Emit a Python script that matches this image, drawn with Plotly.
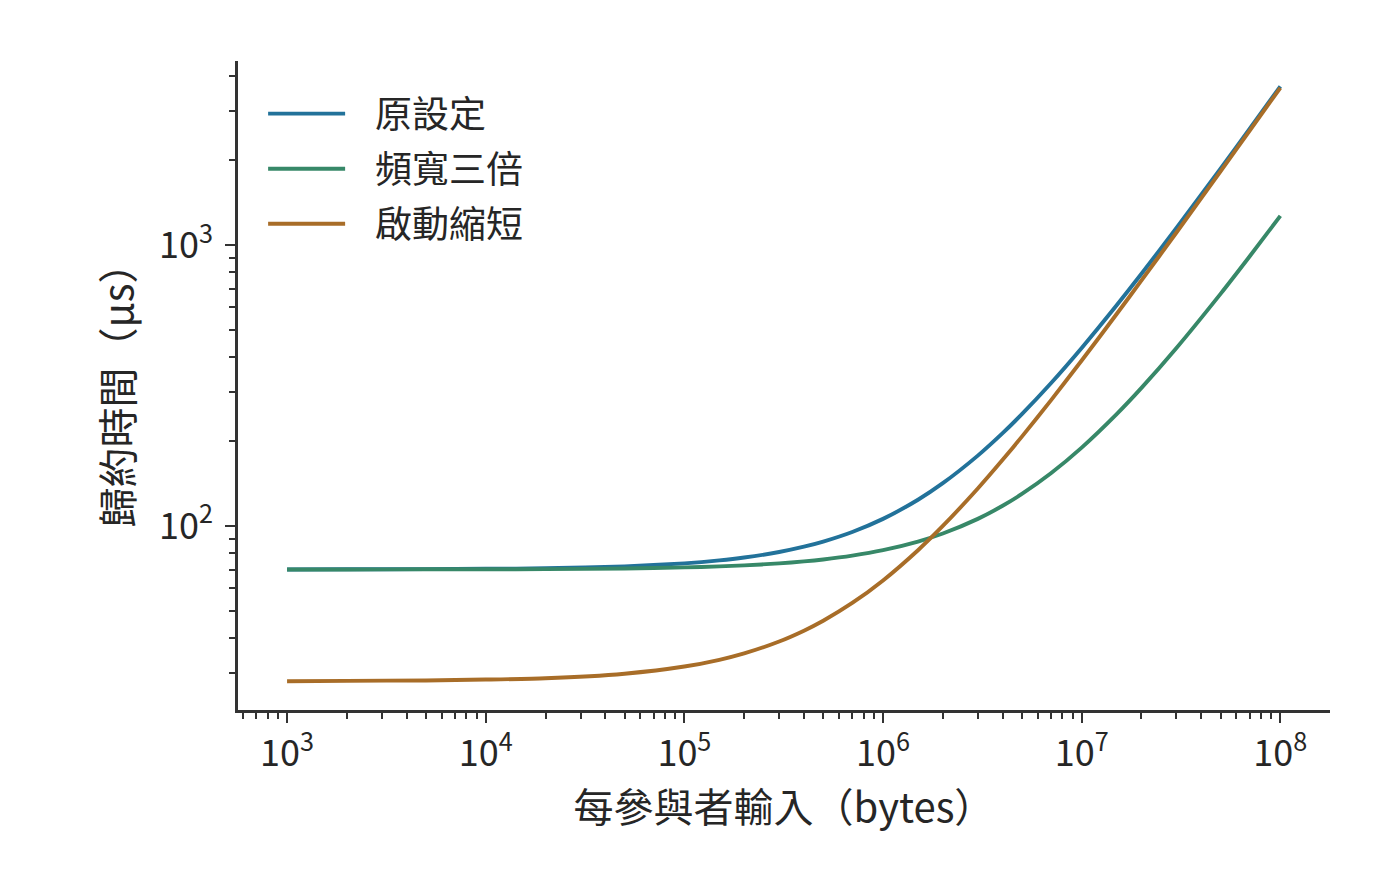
import plotly.graph_objects as go

# ---- data ----
bytes_in = [1e3, 2e3, 5e3, 1e4, 2e4, 5e4, 1e5, 1.5e5, 2e5, 3e5, 4e5, 5e5, 7e5,
            1e6, 1.5e6, 2e6, 3e6, 4e6, 5e6, 7e6, 1e7, 1.5e7, 2e7, 3e7, 5e7,
            7e7, 1e8]
orig = [70, 70.1, 70.2, 70.4, 70.7, 71.8, 73.6, 75.4, 77.2, 80.8, 84.4, 88,
        95.2, 106, 124, 142, 178, 214, 250, 322, 430, 610, 790, 1150, 1870,
        2590, 3670]
bw3 = [70, 70.0, 70.1, 70.1, 70.2, 70.6, 71.2, 71.8, 72.4, 73.6, 74.8, 76,
       78.4, 82, 88, 94, 106, 118, 130, 154, 190, 250, 310, 430, 670, 910,
       1270]
fast = [28, 28.1, 28.2, 28.4, 28.7, 29.8, 31.6, 33.4, 35.2, 38.8, 42.4, 46,
        53.2, 64, 82, 100, 136, 172, 208, 280, 388, 568, 748, 1108, 1828,
        2548, 3628]

series_names = ["原設定", "頻寬三倍", "啟動縮短"]
series_vals = [orig, bw3, fast]
colors = ["#22729a", "#378868", "#a86d28"]

x_tick_vals = [1e3, 1e4, 1e5, 1e6, 1e7, 1e8]
x_tick_text = ["10<sup>3</sup>", "10<sup>4</sup>", "10<sup>5</sup>",
               "10<sup>6</sup>", "10<sup>7</sup>", "10<sup>8</sup>"]
y_tick_vals = [1e2, 1e3]
y_tick_text = ["10<sup>2</sup>", "10<sup>3</sup>"]

x_title = "每參與者輸入（bytes）"
y_title = "歸約時間（μs）"

FONT = "Noto Sans CJK TC, Noto Sans CJK SC, sans-serif"
TXT = "#262626"
AX = "#333333"
GAP = "\u00a0\u00a0\u00a0"

fig = go.Figure()
for i, (name, vals, c) in enumerate(zip(series_names, series_vals, colors)):
    fig.add_trace(go.Scatter(
        x=bytes_in, y=vals, name=GAP + name, mode="lines",
        legendgroup="g%d" % i,
        line=dict(color=c, width=3.9, shape="spline", smoothing=0.6),
    ))

minor_x = [m * 10 ** e for e in range(2, 9) for m in range(2, 10)]
minor_y = [m * 10 ** e for e in range(1, 4) for m in range(2, 10)]

fig.update_layout(
    width=1400, height=888,
    margin=dict(l=230, r=78, t=53, b=186),
    paper_bgcolor="white", plot_bgcolor="white",
    font=dict(family=FONT, size=36, color=TXT),
    showlegend=True,
    legend=dict(x=0.023, y=0.966, xanchor="left", yanchor="top",
                bgcolor="rgba(0,0,0,0)", font=dict(size=37, color=TXT),
                itemwidth=77, tracegroupgap=4),
    xaxis=dict(
        type="log", range=[2.753, 8.25],
        tickvals=x_tick_vals, ticktext=x_tick_text,
        ticks="outside", ticklen=10, tickwidth=2, tickcolor=AX,
        showline=True, linecolor=AX, linewidth=2.5, mirror=False,
        showgrid=False, zeroline=False,
        minor=dict(tickvals=minor_x, ticks="outside", ticklen=6,
                   tickwidth=1.5, tickcolor=AX, showgrid=False),
        tickfont=dict(size=36, color=TXT),
        title=dict(text=x_title, font=dict(size=40, color=TXT), standoff=14),
    ),
    yaxis=dict(
        type="log", range=[1.345, 3.655],
        tickvals=y_tick_vals, ticktext=y_tick_text,
        ticks="outside", ticklen=10, tickwidth=2, tickcolor=AX,
        ticklabelstandoff=5,
        showline=True, linecolor=AX, linewidth=2.5, mirror=False,
        showgrid=False, zeroline=False,
        minor=dict(tickvals=minor_y, ticks="outside", ticklen=6,
                   tickwidth=1.5, tickcolor=AX, showgrid=False),
        tickfont=dict(size=36, color=TXT),
        title=dict(text=y_title, font=dict(size=40, color=TXT), standoff=14),
    ),
)

fig.write_html("out.html")
